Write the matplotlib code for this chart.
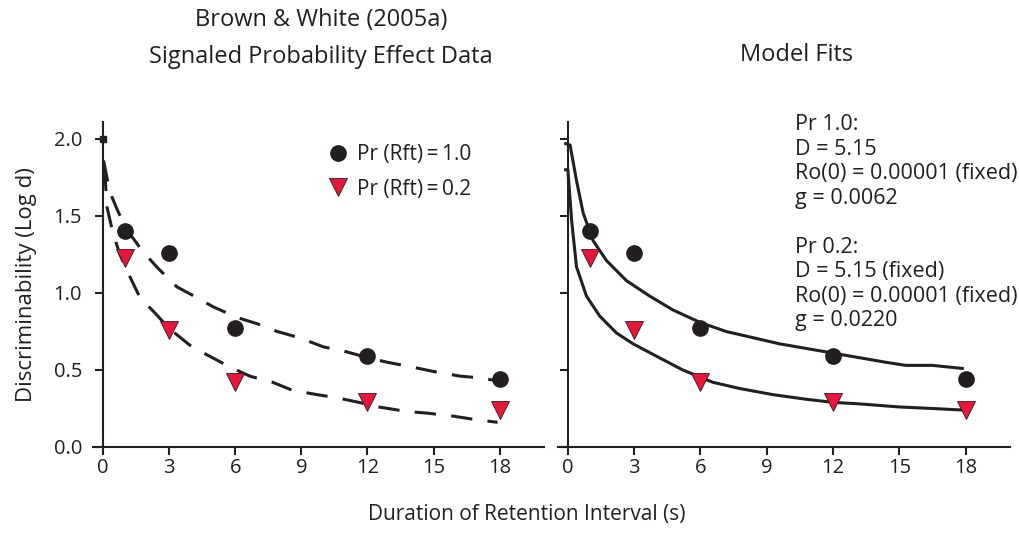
import matplotlib.pyplot as plt

plt.rcParams['font.family'] = ['Open Sans', 'DejaVu Sans']

# Observed data (same points in both panels)
delays = [1, 3, 6, 12, 18]
pr10_logd = [1.40, 1.26, 0.77, 0.59, 0.44]
pr02_logd = [1.23, 0.76, 0.42, 0.29, 0.24]

# Dashed curves in the data panel
dash_hi_x = [0.03, 0.3, 0.68, 1.09, 1.8, 2.5, 3.35, 4.26, 5.0, 6.1, 7.0, 7.9,
             8.9, 10.0, 11.0, 12.0, 12.9, 14.0, 15.0, 16.2, 17.0, 17.9]
dash_hi_y = [1.86, 1.66, 1.53, 1.41, 1.27, 1.16, 1.04, 0.97, 0.91, 0.84, 0.80, 0.75,
             0.71, 0.65, 0.62, 0.58, 0.55, 0.52, 0.49, 0.46, 0.45, 0.43]
dash_lo_x = [0.08, 0.18, 0.45, 0.77, 1.14, 1.68, 2.36, 3.0, 3.95, 4.7, 5.75, 6.66,
             7.7, 8.56, 9.7, 10.6, 11.6, 12.5, 13.8, 14.7, 15.9, 16.8, 17.9]
dash_lo_y = [1.80, 1.56, 1.39, 1.25, 1.13, 0.97, 0.87, 0.77, 0.66, 0.60, 0.52, 0.46,
             0.42, 0.37, 0.34, 0.32, 0.29, 0.26, 0.23, 0.22, 0.20, 0.18, 0.16]

# Model fit curves
fit_hi_x = [-0.1, 0.1, 0.39, 0.69, 1.14, 1.75, 2.65, 3.7, 4.75, 5.96, 7.16, 8.37,
            9.57, 10.78, 11.98, 13.18, 14.39, 15.29, 16.49, 17.85]
fit_hi_y = [1.97, 1.96, 1.73, 1.52, 1.34, 1.21, 1.08, 0.98, 0.89, 0.81, 0.75, 0.71,
            0.67, 0.64, 0.61, 0.58, 0.55, 0.53, 0.53, 0.51]
fit_lo_x = [-0.1, 0.0, 0.17, 0.39, 0.84, 1.44, 2.2, 2.95, 4.0, 5.2, 6.56, 7.77,
            9.27, 10.78, 11.98, 13.18, 14.99, 16.49, 17.85]
fit_lo_y = [1.80, 1.80, 1.47, 1.17, 0.98, 0.85, 0.74, 0.67, 0.59, 0.50, 0.42, 0.38,
            0.34, 0.31, 0.29, 0.28, 0.26, 0.25, 0.24]

xticks = [0, 3, 6, 9, 12, 15, 18]
yticks = [0.0, 0.5, 1.0, 1.5, 2.0]

fit_params = ("Pr 1.0:\nD = 5.15\nRo(0) = 0.00001 (fixed)\ng = 0.0062\n\n"
              "Pr 0.2:\nD = 5.15 (fixed)\nRo(0) = 0.00001 (fixed)\ng = 0.0220")

INK = '#231f20'
RED = '#e8173a'

fig = plt.figure(figsize=(10.2, 5.42), dpi=100)
ax1 = fig.add_axes([0.0912, 0.1753, 0.442, 0.5996])
ax2 = fig.add_axes([0.547, 0.1753, 0.443, 0.5996])

for ax in (ax1, ax2):
    ax.set_xlim(-0.45, 20)
    ax.set_ylim(0, 2.11)
    for s in ('top', 'right'):
        ax.spines[s].set_visible(False)
    ax.spines['left'].set_position(('data', 0))
    for s in ('left', 'bottom'):
        ax.spines[s].set_linewidth(1.5)
        ax.spines[s].set_color(INK)
    ax.set_xticks(xticks)
    ax.set_yticks(yticks)
    ax.tick_params(direction='out', length=6, width=1.5, color=INK,
                   labelsize=14.5, labelcolor=INK)
    ax.tick_params(axis='y', pad=9)
    ax.tick_params(axis='x', pad=2)
    ax.patch.set_visible(False)

ax1.set_yticklabels([f'{v:.1f}' for v in yticks])
ax2.set_yticklabels([])

# data panel
ax1.plot(dash_hi_x, dash_hi_y, color=INK, lw=2.2, dashes=(7, 5), zorder=2)
ax1.plot(dash_lo_x, dash_lo_y, color=INK, lw=2.2, dashes=(7, 5), zorder=2)
ax1.plot([0], [2.0], 's', color=INK, ms=4, zorder=3, clip_on=False)
ax1.plot(delays, pr10_logd, 'o', color=INK, ms=11, zorder=4, label='Pr (Rft)\u2009=\u20091.0')
ax1.plot(delays, pr02_logd, 'v', color=RED, mec=INK, mew=0.6, ms=12.5, zorder=4,
         label='Pr (Rft)\u2009=\u20090.2')
ax1.legend(loc='upper left', bbox_to_anchor=(0.475, 0.99), frameon=False, fontsize=15,
           handletextpad=0.3, labelspacing=0.65, handlelength=1.2, labelcolor=INK)

# model panel
ax2.plot(fit_hi_x, fit_hi_y, color=INK, lw=2.2, zorder=2, clip_on=False)
ax2.plot(fit_lo_x, fit_lo_y, color=INK, lw=2.2, zorder=2, clip_on=False)
ax2.plot(delays, pr10_logd, 'o', color=INK, ms=11, zorder=4)
ax2.plot(delays, pr02_logd, 'v', color=RED, mec=INK, mew=0.6, ms=12.5, zorder=4)
ax2.text(0.524, 1.024, fit_params, transform=ax2.transAxes, ha='left', va='top',
         fontsize=15.5, color=INK, linespacing=1.22)

ax1.set_ylabel('Discriminability (Log d)', fontsize=16, color=INK, labelpad=12)
fig.text(0.315, 0.929, 'Brown & White (2005a)\nSignaled Probability Effect Data',
         ha='center', va='center', fontsize=17, color=INK, linespacing=1.75)
fig.text(0.781, 0.899, 'Model Fits', ha='center', va='center', fontsize=17, color=INK)
fig.text(0.516, 0.05, 'Duration of Retention Interval (s)', ha='center', va='center',
         fontsize=15, color=INK)

fig.savefig('out.png', dpi=100)
